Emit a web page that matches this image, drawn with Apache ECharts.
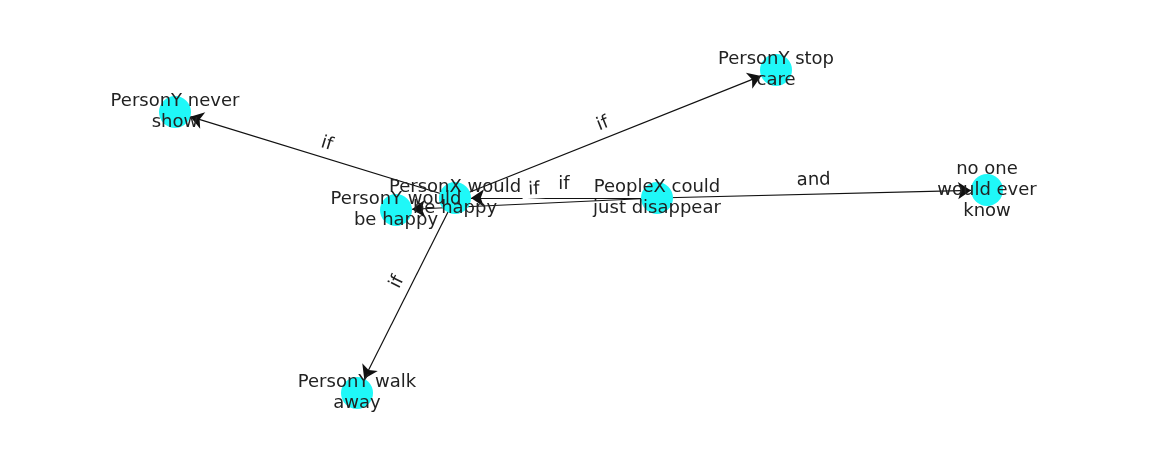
<!DOCTYPE html>
<html>
<head>
<meta charset="utf-8">
<script src="https://cdn.jsdelivr.net/npm/echarts@6/dist/echarts.min.js"></script>
<style>html,body{margin:0;padding:0;background:#fff}#c{width:1162px;height:462px}</style>
</head>
<body>
<div id="c"></div>
<script>
// nodes and their positions (pixels)
const nodeNames = ['PersonY never\nshow', 'PersonY stop\ncare', 'PersonX would\nbe happy', 'PersonY would\nbe happy', 'PeopleX could\njust disappear', 'no one\nwould ever\nknow', 'PersonY walk\naway'];
const nodeX = [175, 776, 455, 396, 657, 987, 357];
const nodeY = [112, 70, 198, 210, 198, 190, 393];
const edgeSource = [2, 2, 2, 4, 4, 4];
const edgeTarget = [0, 1, 6, 2, 3, 5];
const edgeLabels = ['if', 'if', 'if', 'if', 'if', 'and'];

const chart = echarts.init(document.getElementById('c'));

const nodes = nodeNames.map(function(n, i) {
    return { name: n, value: [nodeX[i], nodeY[i]] };
});
const links = edgeSource.map(function(s, i) {
    return { source: s, target: edgeTarget[i], label: { formatter: edgeLabels[i] } };
});

chart.setOption({
    animation: false,
    grid: { left: 0, right: 0, top: 0, bottom: 0 },
    xAxis: { type: 'value', min: 0, max: 1162, show: false },
    yAxis: { type: 'value', min: 0, max: 462, inverse: true, show: false },
    series: [{
        type: 'graph',
        coordinateSystem: 'cartesian2d',
        data: nodes,
        links: links,
        symbolSize: 32,
        itemStyle: { color: '#1ff8f8' },
        label: {
            show: true,
            position: 'inside',
            color: '#222',
            fontSize: 18,
            lineHeight: 21,
            fontFamily: 'DejaVu Sans'
        },
        edgeSymbol: ['none', 'arrow'],
        edgeSymbolSize: 13,
        lineStyle: { color: '#111', width: 1.2, opacity: 1, curveness: 0 },
        edgeLabel: {
            show: true,
            position: 'middle',
            fontSize: 18,
            color: '#222',
            fontFamily: 'DejaVu Sans',
            backgroundColor: '#fff',
            padding: [0, 6]
        }
    }]
});
</script>
</body>
</html>
